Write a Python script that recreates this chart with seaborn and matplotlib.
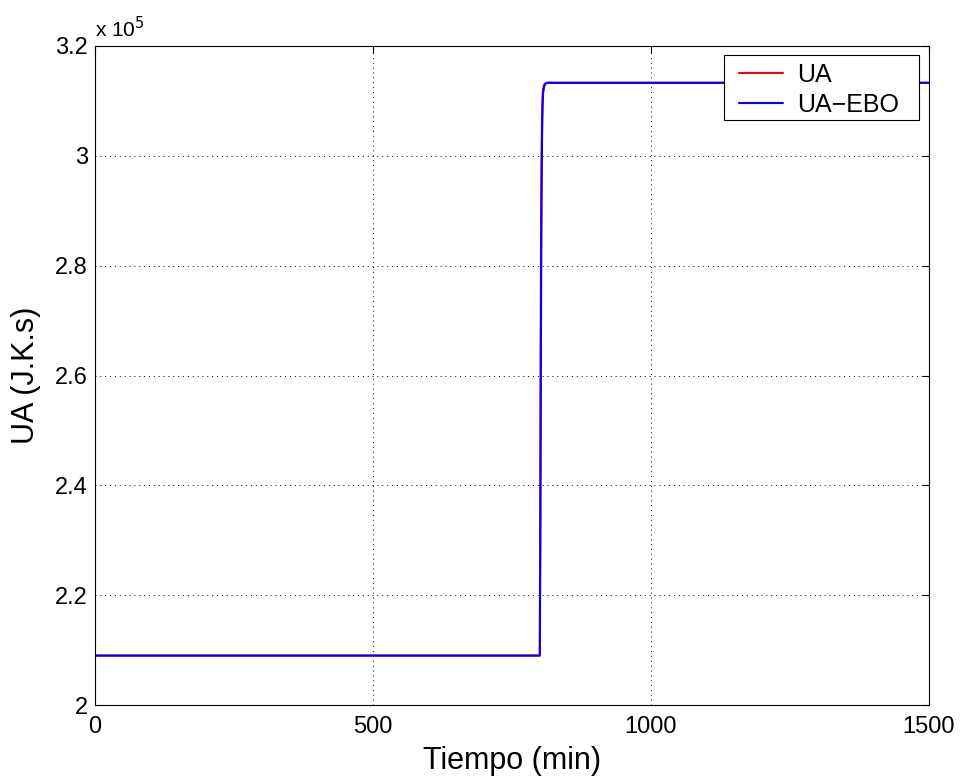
import numpy as np
import pandas as pd
import matplotlib
matplotlib.use("Agg")
import matplotlib.pyplot as plt
from matplotlib.patches import Rectangle
import seaborn as sns

# Data (time in minutes, UA in J.K.s)
t_ua = [0, 800, 801, 802, 803, 804, 805, 806, 808, 810, 813, 1500]
ua = [2.09e5, 2.09e5, 2.45e5, 2.80e5, 2.98e5, 3.07e5, 3.11e5, 3.122e5, 3.13e5, 3.132e5, 3.133e5, 3.133e5]
t_ebo = [0, 800, 801, 802, 803, 804, 805, 806, 808, 810, 813, 1500]
ua_ebo = [2.09e5, 2.09e5, 2.30e5, 2.65e5, 2.90e5, 3.03e5, 3.09e5, 3.115e5, 3.127e5, 3.131e5, 3.133e5, 3.133e5]

xticks = [0, 500, 1000, 1500]
yticks = [2.0e5, 2.2e5, 2.4e5, 2.6e5, 2.8e5, 3.0e5, 3.2e5]
ytick_labels = ["2", "2.2", "2.4", "2.6", "2.8", "3", "3.2"]

df = pd.concat([
    pd.DataFrame({"Tiempo": t_ua, "UA": ua, "serie": "UA"}),
    pd.DataFrame({"Tiempo": t_ebo, "UA": ua_ebo, "serie": "UA\u2212EBO"}),
])

sns.set_style("white")
plt.rcParams["font.family"] = ["Liberation Sans", "DejaVu Sans"]
plt.rcParams["text.color"] = "black"
plt.rcParams["axes.labelcolor"] = "black"
plt.rcParams["xtick.color"] = "black"
plt.rcParams["ytick.color"] = "black"

W, H = 964, 778
L, R, T, B = 95, 929, 46, 705
fig = plt.figure(figsize=(W/100, H/100), dpi=100)
ax = fig.add_axes([L/W, 1 - B/H, (R-L)/W, (B-T)/H])

sns.lineplot(data=df, x="Tiempo", y="UA", hue="serie", palette={"UA": "red", "UA\u2212EBO": "blue"},
             ax=ax, linewidth=1.5, estimator=None, sort=False)

ax.set_xlim(0, 1500)
ax.set_ylim(2.0e5, 3.2e5)
ax.set_xticks(xticks)
ax.set_xticklabels([str(v) for v in xticks])
ax.set_yticks(yticks)
ax.set_yticklabels(ytick_labels)
ax.tick_params(direction="in", length=5, width=0.8, labelsize=17, top=True, right=True)
ax.tick_params(axis="x", pad=8)
ax.tick_params(axis="y", pad=5)
for s in ax.spines.values():
    s.set_visible(True)
    s.set_color("black")
    s.set_linewidth(0.8)
ax.grid(True, linestyle=(0, (1, 4)), color="black", linewidth=0.7)
ax.set_xlabel("Tiempo (min)", fontsize=22, labelpad=6)
ax.set_ylabel("UA (J.K.s)", fontsize=22, labelpad=10)
ax.text(0.0, 1.008, "x 10$^5$", transform=ax.transAxes, fontsize=15, ha="left", va="bottom")

# legend box (frame drawn separately to get MATLAB-like padding)
bx0, bx1, by0, by1 = 724, 919, 55, 120
box = Rectangle(((bx0 - L)/(R - L), 1 - (by1 - T)/(B - T)), (bx1 - bx0)/(R - L), (by1 - by0)/(B - T),
                transform=ax.transAxes, facecolor="white", edgecolor="black", linewidth=0.8,
                zorder=4.9, clip_on=False)
ax.add_patch(box)
leg = ax.legend(loc="upper left", fontsize=18, frameon=False,
                bbox_to_anchor=((bx0 + 7.5 - L)/(R - L), 1 - (by0 - T)/(B - T)), borderaxespad=0,
                handlelength=1.75, handletextpad=0.56, borderpad=0.3, labelspacing=0.25)
leg.set_zorder(5)
leg.set_title(None)

fig.savefig("out.png", dpi=100)
